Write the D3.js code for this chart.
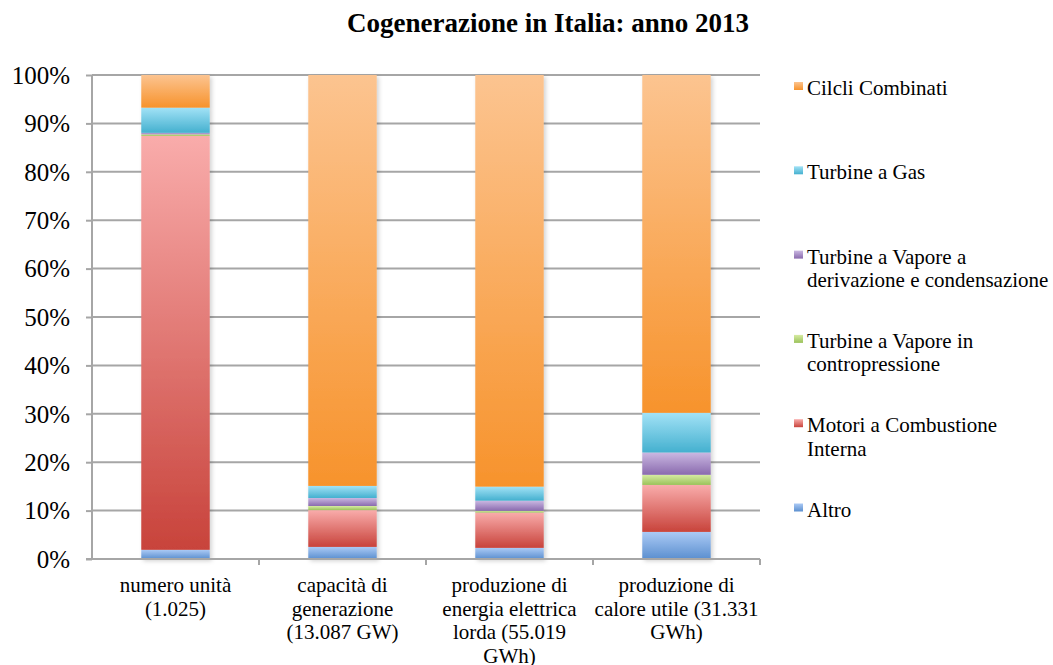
<!DOCTYPE html>
<html>
<head>
<meta charset="utf-8">
<script src="https://cdn.jsdelivr.net/npm/d3@7"></script>
<style>
  body { margin: 0; background: #fff; }
  svg text { font-family: "Liberation Serif", "Times New Roman", serif; }
</style>
</head>
<body>
<svg id="chart" width="1053" height="665"></svg>
<script>
// categories (x axis), one label per line
const categories = [
    ["numero unità", "(1.025)"],
    ["capacità di", "generazione", "(13.087 GW)"],
    ["produzione di", "energia elettrica", "lorda (55.019", "GWh)"],
    ["produzione di", "calore utile (31.331", "GWh)"]
];

// series, bottom to top, percent values per category
const seriesNames = [
    ["Altro"],
    ["Motori a Combustione", "Interna"],
    ["Turbine a Vapore in", "contropressione"],
    ["Turbine a Vapore a", "derivazione e condensazione"],
    ["Turbine a Gas"],
    ["Cilcli Combinati"]
];
const altro = [1.9, 2.5, 2.3, 5.6];
const motori = [85.5, 7.6, 7.3, 9.7];
const vaporeContro = [0.35, 0.85, 0.35, 2.1];
const vaporeDeriv = [0.3, 1.65, 2.1, 4.6];
const turbineGas = [5.2, 2.5, 2.9, 8.2];
const cicliCombinati = [6.75, 84.9, 85.05, 69.8];

const yTicks = [0, 10, 20, 30, 40, 50, 60, 70, 80, 90, 100];

// gradient colours (top, bottom) per series
const colors = [
    ["#abcaf5", "#5b8fcf"],
    ["#f9acab", "#c8433b"],
    ["#d6eba2", "#9bc25a"],
    ["#cab8e2", "#8a6aae"],
    ["#a2e2f6", "#44b0cf"],
    ["#fcc490", "#f7932c"]
];

const values = [altro, motori, vaporeContro, vaporeDeriv, turbineGas, cicliCombinati];
const keys = seriesNames.map((d, i) => "s" + i);

const table = categories.map((c, j) => {
    const row = { cat: j };
    keys.forEach((k, i) => row[k] = values[i][j]);
    return row;
});

const margin = { top: 75, left: 92 };
const plotW = 668, plotH = 484;

const svg = d3.select("#chart");
const defs = svg.append("defs");

colors.forEach((c, i) => {
    const g = defs.append("linearGradient")
        .attr("id", "grad" + i)
        .attr("x1", 0).attr("y1", 0).attr("x2", 0).attr("y2", 1);
    g.append("stop").attr("offset", "0%").attr("stop-color", c[0]);
    g.append("stop").attr("offset", "100%").attr("stop-color", c[1]);
});

const shadow = defs.append("filter").attr("id", "shadow")
    .attr("x", "-10%").attr("y", "-5%").attr("width", "130%").attr("height", "110%");
shadow.append("feDropShadow")
    .attr("dx", 2).attr("dy", 2).attr("stdDeviation", 2)
    .attr("flood-color", "#000").attr("flood-opacity", 0.18);

const g = svg.append("g").attr("transform", `translate(${margin.left},${margin.top})`);

const x = d3.scaleBand().domain(categories.map((d, i) => i)).range([0, plotW]).paddingInner(0.59).paddingOuter(0.295);
const y = d3.scaleLinear().domain([0, 100]).range([plotH, 0]);

// gridlines
g.append("g")
    .selectAll("line")
    .data(yTicks.filter(d => d > 0))
    .join("line")
    .attr("x1", 0).attr("x2", plotW)
    .attr("y1", d => y(d)).attr("y2", d => y(d))
    .attr("stroke", "#a6a6a6").attr("stroke-width", 2);

// bars
const stacked = d3.stack().keys(keys)(table);
const bars = g.append("g").attr("filter", "url(#shadow)");
bars.selectAll("g")
    .data(stacked)
    .join("g")
    .attr("fill", (d, i) => `url(#grad${i})`)
    .selectAll("rect")
    .data(d => d)
    .join("rect")
    .attr("x", d => x(d.data.cat))
    .attr("width", x.bandwidth())
    .attr("y", d => y(d[1]))
    .attr("height", d => y(d[0]) - y(d[1]));

// y axis
const yAxis = g.append("g")
    .call(d3.axisLeft(y).tickValues(yTicks).tickFormat(d => d + "%").tickSize(6).tickPadding(16))
    .attr("font-family", null).attr("font-size", null);
yAxis.select(".domain").attr("stroke", "#a6a6a6").attr("stroke-width", 2).attr("d", `M0,0V${plotH}`);
yAxis.selectAll(".tick line").attr("stroke", "#a6a6a6").attr("stroke-width", 2);
yAxis.selectAll(".tick text")
    .style("font-size", "25px").attr("fill", "#000")
    .attr("dy", "0.33em");

// x axis
const xAxis = g.append("g").attr("transform", `translate(0,${plotH})`);
xAxis.append("line")
    .attr("x1", -6).attr("x2", plotW).attr("y1", 0).attr("y2", 0)
    .attr("stroke", "#a6a6a6").attr("stroke-width", 2);
xAxis.selectAll(".sep")
    .data(categories)
    .join("line")
    .attr("class", "sep")
    .attr("x1", (d, i) => x(i) + x.bandwidth() / 2 + x.step() / 2)
    .attr("x2", (d, i) => x(i) + x.bandwidth() / 2 + x.step() / 2)
    .attr("y1", 0).attr("y2", 6)
    .attr("stroke", "#a6a6a6").attr("stroke-width", 2);
xAxis.selectAll(".lab")
    .data(categories)
    .join("text")
    .attr("class", "lab")
    .attr("text-anchor", "middle")
    .style("font-size", "21px")
    .attr("fill", "#000")
    .attr("transform", (d, i) => `translate(${x(i) + x.bandwidth() / 2},${33})`)
    .selectAll("tspan")
    .data(d => d)
    .join("tspan")
    .attr("x", 0)
    .attr("y", (d, i) => i * 23.6)
    .text(d => d);

// title
svg.append("text")
    .attr("x", 548).attr("y", 32)
    .attr("text-anchor", "middle")
    .style("font-size", "27px").attr("font-weight", "bold")
    .text("Cogenerazione in Italia: anno 2013");

// legend (top to bottom)
const legendItems = seriesNames.map((n, i) => ({ name: n, i })).reverse();
const legend = svg.append("g").attr("transform", "translate(794,0)");
const item = legend.selectAll("g")
    .data(legendItems)
    .join("g")
    .attr("transform", (d, k) => `translate(0,${95 + k * 84.3})`);
item.append("rect")
    .attr("x", 0).attr("y", -13).attr("width", 9).attr("height", 8)
    .attr("fill", d => `url(#grad${d.i})`);
item.append("text")
    .style("font-size", "21px").attr("fill", "#000")
    .selectAll("tspan")
    .data(d => d.name)
    .join("tspan")
    .attr("x", 13)
    .attr("y", (d, i) => i * 23.6)
    .text(d => d);
</script>
</body>
</html>
